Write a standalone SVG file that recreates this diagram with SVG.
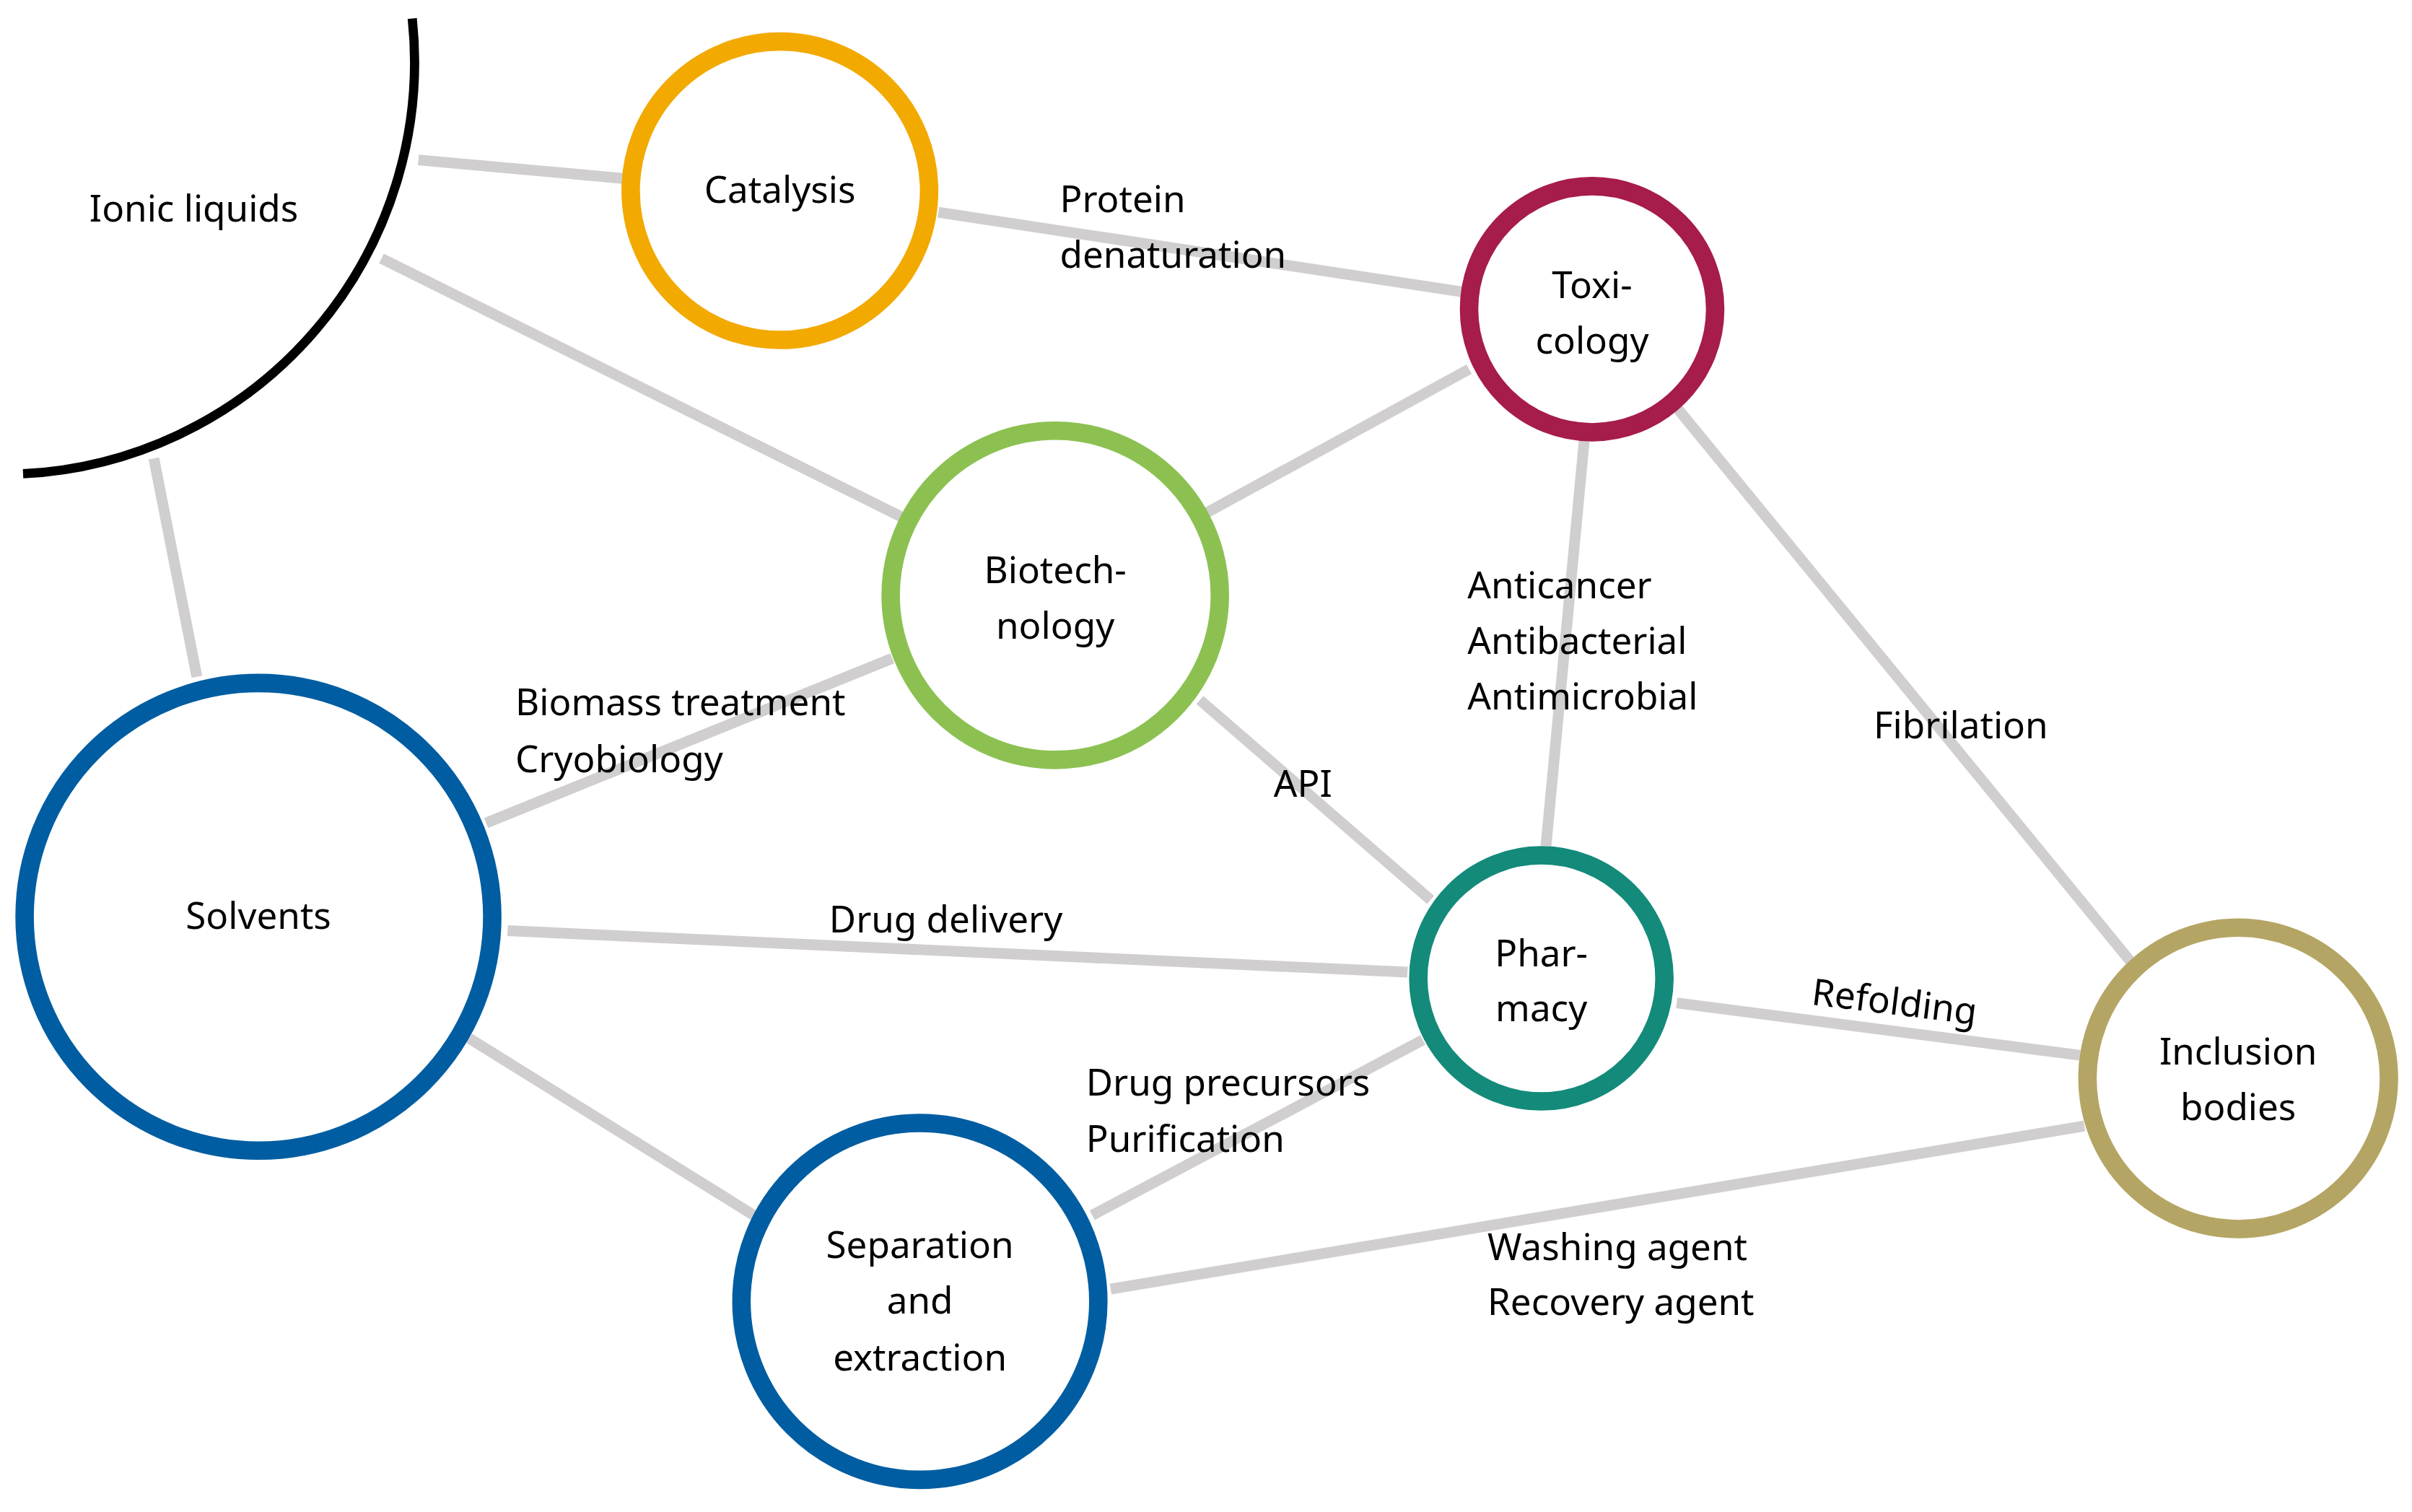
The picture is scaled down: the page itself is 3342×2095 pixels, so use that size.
<svg xmlns="http://www.w3.org/2000/svg" width="3342" height="2095" viewBox="0 0 3342 2095">
<style>
.e{stroke:#D0CECE;stroke-width:7;fill:none}
.n{fill:#fff;stroke-width:12}
text{font-family:"Noto Sans","Open Sans",sans-serif;font-size:24px;fill:#000}
.c{text-anchor:middle}
</style>
<rect width="3342" height="2095" fill="#fff"/>
<g transform="scale(2.1314)">
<g id="connectors">
<line class="e" x1="272" y1="104" x2="405" y2="116"/>
<line class="e" x1="248" y1="168" x2="590" y2="338"/>
<line class="e" x1="100" y1="298" x2="128" y2="440"/>
<line class="e" x1="610" y1="138" x2="952" y2="190"/>
<line class="e" x1="785" y1="333" x2="955" y2="240"/>
<line class="e" x1="1030" y1="285" x2="1005" y2="550"/>
<line class="e" x1="1090" y1="265" x2="1385" y2="625"/>
<line class="e" x1="580" y1="428" x2="316" y2="535"/>
<line class="e" x1="780" y1="455" x2="930" y2="585"/>
<line class="e" x1="330" y1="605" x2="915" y2="632"/>
<line class="e" x1="305" y1="675" x2="490" y2="790"/>
<line class="e" x1="1090" y1="652" x2="1352" y2="686"/>
<line class="e" x1="925" y1="676" x2="710" y2="790"/>
<line class="e" x1="722" y1="838" x2="1355" y2="732"/>
<text x="689" y="138">Protein</text><text x="689" y="174">denaturation</text>
<text x="954" y="389">Anticancer</text><text x="954" y="425">Antibacterial</text><text x="954" y="461">Antimicrobial</text>
<text x="1218" y="480">Fibrilation</text>
<text x="335" y="465">Biomass treatment</text><text x="335" y="502">Cryobiology</text>
<text x="828" y="518">API</text>
<text x="539" y="606">Drug delivery</text>
<text x="1178" y="653" transform="rotate(7 1178 645)">Refolding</text>
<text x="706" y="712">Drug precursors</text><text x="706" y="749">Purification</text>
<text x="967" y="819">Washing agent</text><text x="967" y="855">Recovery agent</text>
</g>
<g id="ionic"><path d="M268 12 A268 268 0 0 1 15 308" fill="none" stroke="#000" stroke-width="6"/><text class="c" x="126" y="144">Ionic liquids</text></g>
<g id="catalysis"><circle class="n" cx="507" cy="124" r="97" stroke="#F2A900"/><text class="c" x="507" y="132">Catalysis</text></g>
<g id="toxicology"><circle class="n" cx="1035" cy="201" r="80" stroke="#A61C4B"/><text class="c" x="1035" y="194">Toxi-</text><text class="c" x="1035" y="230">cology</text></g>
<g id="biotech"><circle class="n" cx="686" cy="387" r="107" stroke="#8CC152"/><text class="c" x="686" y="379">Biotech-</text><text class="c" x="686" y="415">nology</text></g>
<g id="solvents"><circle class="n" cx="168" cy="596" r="152" stroke="#005DA1"/><text class="c" x="168" y="604">Solvents</text></g>
<g id="pharmacy"><circle class="n" cx="1002" cy="636" r="80" stroke="#138A7A"/><text class="c" x="1002" y="628">Phar-</text><text class="c" x="1002" y="664">macy</text></g>
<g id="separation"><circle class="n" cx="598" cy="846" r="116" stroke="#005DA1"/><text class="c" x="598" y="818">Separation</text><text class="c" x="598" y="854">and</text><text class="c" x="598" y="891">extraction</text></g>
<g id="inclusion"><circle class="n" cx="1455" cy="701" r="98" stroke="#B5A564"/><text class="c" x="1455" y="692">Inclusion</text><text class="c" x="1455" y="728">bodies</text></g>
</g>
</svg>
